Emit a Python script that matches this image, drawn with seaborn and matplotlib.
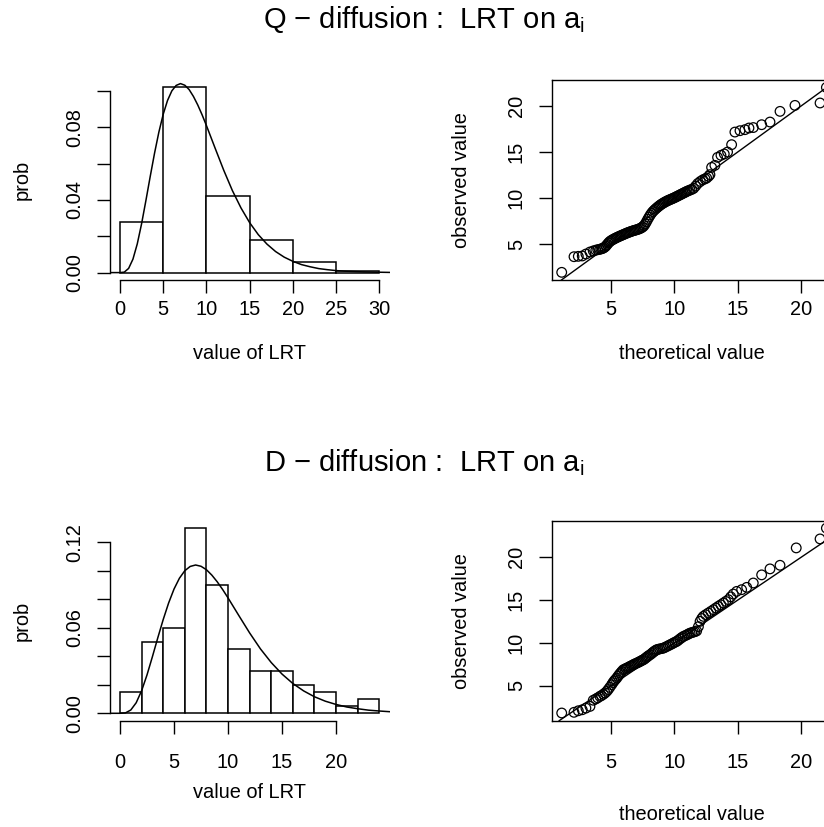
import matplotlib
matplotlib.use("Agg")
import matplotlib.pyplot as plt
import seaborn as sns
import numpy as np

# ---------------- data ----------------
# top histogram (Q-diffusion): bin edges and densities
q_edges = [0, 5, 10, 15, 20, 25, 30]
q_density = [0.028, 0.102, 0.042, 0.018, 0.006, 0.001]
# bottom histogram (D-diffusion)
d_edges = [0, 2, 4, 6, 8, 10, 12, 14, 16, 18, 20, 22, 24]
d_density = [0.015, 0.05, 0.06, 0.13, 0.09, 0.045, 0.03, 0.03, 0.02, 0.015, 0.005, 0.01]

# reference density curve
curve_x = [-1.2, 0, 0.5, 1, 1.5, 2, 2.5, 3, 3.5, 4, 4.5, 5, 5.5, 6, 6.5, 7, 7.5, 8,
           8.5, 9, 9.5, 10, 11, 12, 13, 14, 15, 16, 17, 18, 19, 20, 21, 22, 23,
           24, 25, 26, 28, 30, 31.2]
curve_y = [0, 0, 0.00026, 0.0023, 0.0074, 0.0158, 0.0269, 0.0397, 0.0530, 0.0658,
           0.0774, 0.0872, 0.0948, 0.1001, 0.1031, 0.1041, 0.1032, 0.1008, 0.0970,
           0.0923, 0.0869, 0.0810, 0.0686, 0.0564, 0.0452, 0.0356, 0.0275, 0.0209,
           0.0157, 0.0116, 0.0085, 0.0062, 0.0044, 0.0032, 0.0022, 0.0016, 0.0011,
           0.0008, 0.0004, 0.0002, 0.0001]

# QQ plot, Q-diffusion
q_theo = [1.11, 2.08, 2.42, 2.73, 3.02, 3.34, 3.60, 3.80, 3.95, 4.10,
          4.20, 4.30, 4.40, 4.50, 4.60, 4.70, 4.80, 4.90, 5.00, 5.10,
          5.20, 5.30, 5.40, 5.50, 5.60, 5.70, 5.80, 5.90, 6.00, 6.10,
          6.20, 6.30, 6.40, 6.50, 6.60, 6.70, 6.80, 6.90, 7.00, 7.10,
          7.20, 7.30, 7.40, 7.50, 7.60, 7.70, 7.80, 7.90, 8.00, 8.10,
          8.20, 8.30, 8.40, 8.50, 8.60, 8.70, 8.80, 8.90, 9.00, 9.10,
          9.20, 9.30, 9.40, 9.50, 9.60, 9.70, 9.80, 9.90, 10.00, 10.10,
          10.20, 10.30, 10.40, 10.50, 10.60, 10.70, 10.80, 10.90, 11.00, 11.12,
          11.24, 11.38, 11.52, 11.68, 11.85, 12.05, 12.25, 12.42, 12.55, 12.70,
          12.81, 12.94, 13.20, 13.41, 13.68, 13.94, 14.20, 14.52, 14.78, 15.18,
          15.57, 15.89, 16.23, 16.89, 17.55, 18.34, 19.52, 21.50, 22.00]
q_obs = [1.92, 3.62, 3.66, 3.70, 3.91, 4.13, 4.25, 4.33, 4.38, 4.42,
         4.46, 4.50, 4.56, 4.65, 4.78, 4.95, 5.12, 5.26, 5.36, 5.45,
         5.52, 5.60, 5.67, 5.73, 5.80, 5.86, 5.92, 5.98, 6.04, 6.10,
         6.16, 6.22, 6.27, 6.32, 6.37, 6.42, 6.46, 6.50, 6.54, 6.58,
         6.63, 6.69, 6.76, 6.85, 6.98, 7.18, 7.42, 7.68, 7.92, 8.15,
         8.35, 8.52, 8.66, 8.79, 8.91, 9.03, 9.14, 9.25, 9.34, 9.43,
         9.51, 9.59, 9.66, 9.73, 9.79, 9.85, 9.91, 9.97, 10.03, 10.10,
         10.17, 10.24, 10.31, 10.38, 10.45, 10.52, 10.59, 10.66, 10.73, 10.80,
         10.87, 10.94, 11.05, 11.30, 11.58, 11.80, 11.98, 12.08, 12.17, 12.36,
         12.54, 13.33, 13.55, 14.42, 14.64, 14.79, 15.00, 15.80, 17.17, 17.32,
         17.43, 17.61, 17.66, 17.97, 18.26, 19.42, 20.07, 20.33, 22.02]

# QQ plot, D-diffusion
d_theo = [1.11, 2.08, 2.42, 2.73, 3.02, 3.34, 3.60, 3.80, 3.95, 4.13,
          4.25, 4.40, 4.53, 4.66, 4.78, 4.90, 5.05, 5.15, 5.25, 5.35,
          5.45, 5.55, 5.65, 5.75, 5.85, 5.97, 6.10, 6.20, 6.30, 6.40,
          6.50, 6.60, 6.70, 6.80, 6.90, 7.03, 7.15, 7.25, 7.35, 7.45,
          7.55, 7.65, 7.75, 7.85, 7.95, 8.08, 8.20, 8.30, 8.40, 8.50,
          8.60, 8.72, 8.85, 9.00, 9.13, 9.25, 9.40, 9.53, 9.66, 9.80,
          9.92, 10.05, 10.18, 10.30, 10.45, 10.58, 10.71, 10.85, 11.00, 11.12,
          11.24, 11.37, 11.50, 11.63, 11.76, 11.90, 12.03, 12.16, 12.29, 12.48,
          12.68, 12.88, 13.08, 13.28, 13.47, 13.67, 13.87, 14.06, 14.26, 14.45,
          14.65, 14.92, 15.31, 15.71, 16.23, 16.89, 17.55, 18.34, 19.62, 21.50,
          22.00]
d_obs = [1.81, 1.89, 2.07, 2.19, 2.38, 2.58, 3.30, 3.45, 3.58, 3.75,
         3.85, 4.00, 4.15, 4.33, 4.55, 4.80, 5.11, 5.35, 5.55, 5.72,
         5.89, 6.10, 6.30, 6.48, 6.66, 6.86, 6.95, 7.02, 7.09, 7.17,
         7.25, 7.32, 7.40, 7.48, 7.56, 7.64, 7.72, 7.80, 7.88, 7.96,
         8.03, 8.13, 8.25, 8.37, 8.49, 8.61, 8.75, 8.88, 9.00, 9.10,
         9.20, 9.25, 9.30, 9.34, 9.39, 9.47, 9.58, 9.68, 9.78, 9.88,
         9.98, 10.08, 10.17, 10.30, 10.48, 10.62, 10.75, 10.85, 10.95, 11.05,
         11.14, 11.20, 11.26, 11.32, 11.40, 11.90, 12.52, 12.85, 13.10, 13.30,
         13.49, 13.68, 13.88, 14.08, 14.27, 14.46, 14.66, 14.85, 15.05, 15.38,
         15.71, 16.02, 16.22, 16.49, 17.00, 17.95, 18.65, 19.07, 21.10, 22.15,
         23.41]

# ---------------- style ----------------
plt.rcParams['font.family'] = ['Liberation Sans', 'DejaVu Sans']
plt.rcParams['mathtext.fontset'] = 'custom'
plt.rcParams['mathtext.rm'] = 'Liberation Sans'
plt.rcParams['mathtext.it'] = 'Liberation Sans'

W, H = 824, 827
fig = plt.figure(figsize=(W / 100, H / 100), dpi=100)
fig.patch.set_facecolor('white')

FS = 14.4      # tick/axis label font size (pt)
TFS = 21.0     # title font size
LW = 1.0


def px_axes(left, top, w, h):
    return fig.add_axes([left / W, 1 - (top + h) / H, w / W, h / H])


def style_common(ax, xpad):
    ax.tick_params(axis='both', direction='out', length=9.1, width=LW,
                   labelsize=FS, color='black')
    ax.tick_params(axis='x', pad=xpad)
    for s in ax.spines.values():
        s.set_linewidth(LW)
    ax.set_facecolor('white')


def rot_ylabels(ax, pad):
    ax.tick_params(axis='y', pad=pad)
    for lbl in ax.get_yticklabels():
        lbl.set_rotation(90)
        lbl.set_va('center')
        lbl.set_ha('right')


def hist_panel(ax, edges, dens, xlim, ylim, xticks, yticks, ylabels, xlab_y, xpad):
    centers = [(edges[i] + edges[i + 1]) / 2 for i in range(len(dens))]
    sns.histplot(x=centers, weights=dens, bins=edges, stat='count',
                 color='white', edgecolor='black', linewidth=LW * 1.1,
                 alpha=1, ax=ax)
    sns.lineplot(x=curve_x, y=curve_y, sort=False, color='black',
                 linewidth=LW * 1.1, ax=ax)
    ax.set_xlim(*xlim)
    ax.set_ylim(*ylim)
    for s in ['top', 'right']:
        ax.spines[s].set_visible(False)
    style_common(ax, xpad)
    ax.set_xticks(xticks)
    ax.set_xticklabels([str(t) for t in xticks])
    ax.set_yticks(yticks)
    ax.set_yticklabels(ylabels)
    ax.spines['bottom'].set_bounds(xticks[0], xticks[-1])
    ax.spines['left'].set_bounds(yticks[0], yticks[-1])
    rot_ylabels(ax, 9.5)
    ax.set_xlabel('value of LRT', fontsize=FS)
    ax.set_ylabel('prob', fontsize=FS)
    ax.xaxis.set_label_coords(0.5, xlab_y)
    ax.xaxis.label.set_va('center')
    ax.yaxis.set_label_coords((22.5 - 109.6) / 280.0, 0.5)
    ax.yaxis.label.set_va('center')
    ax.yaxis.label.set_ha('center')


def qq_panel(ax, theo, obs, ylim, xlab_y, xpad):
    sns.scatterplot(x=theo, y=obs, marker='o', s=48, facecolor='none',
                    edgecolor='black', linewidth=0.9, ax=ax)
    ax.axline((0, 0), slope=1, color='black', linewidth=LW)
    ax.set_xlim(0.32, 0.32 + 280 / 12.67)
    ax.set_ylim(*ylim)
    style_common(ax, xpad)
    ax.set_xticks([5, 10, 15, 20])
    ax.set_yticks([5, 10, 15, 20])
    rot_ylabels(ax, 9.5)
    ax.set_xlabel('theoretical value', fontsize=FS)
    ax.set_ylabel('observed value', fontsize=FS)
    ax.xaxis.set_label_coords(0.5, xlab_y)
    ax.xaxis.label.set_va('center')
    ax.yaxis.set_label_coords((461.5 - 551.7) / 280.0, 0.5)
    ax.yaxis.label.set_va('center')
    ax.yaxis.label.set_ha('center')


# top row
ax1 = px_axes(109.6, 80, 280.1, 200)
hist_panel(ax1, q_edges, q_density, (-1.2, 31.2), (-0.00408, 0.10608),
           [0, 5, 10, 15, 20, 25, 30],
           [0, 0.02, 0.04, 0.06, 0.08, 0.10],
           ['0.00', '', '0.04', '', '0.08', ''], (280 - 354) / 200, 5.3)
ax2 = px_axes(551.7, 80, 280.0, 200)
qq_panel(ax2, q_theo, q_obs, (1.087, 22.83), (280 - 354) / 200, 5.3)

# bottom row
ax3 = px_axes(109.6, 520.7, 280.1, 200)
hist_panel(ax3, d_edges, d_density, (-0.96, 24.96), (-0.0052, 0.1352),
           [0, 5, 10, 15, 20],
           [0, 0.02, 0.04, 0.06, 0.08, 0.10, 0.12],
           ['0.00', '', '', '0.06', '', '', '0.12'], (720.7 - 792) / 200, 13.9)
ax4 = px_axes(551.7, 520.7, 280.0, 200)
qq_panel(ax4, d_theo, d_obs, (0.91, 24.28), (720.7 - 814) / 200, 13.9)

# titles
fig.text(424 / W, 1 - 28 / H, r'Q $-$ diffusion :  LRT on $\mathregular{a_i}$',
         ha='center', va='baseline', fontsize=TFS)
fig.text(424 / W, 1 - 471 / H, r'D $-$ diffusion :  LRT on $\mathregular{a_i}$',
         ha='center', va='baseline', fontsize=TFS)

fig.savefig('out.png', dpi=100, facecolor='white')
